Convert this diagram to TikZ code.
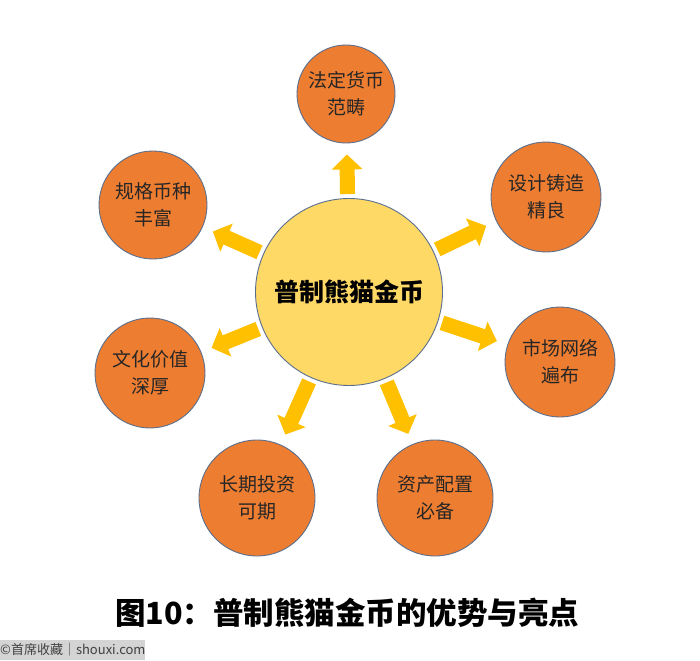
\documentclass[tikz,border=0pt]{standalone}
\usepackage{fontspec}
\setmainfont{Noto Sans CJK SC}
\usetikzlibrary{arrows.meta}
\definecolor{orangefill}{HTML}{ED7D31}
\definecolor{hubfill}{HTML}{FFD966}
\definecolor{arrowgold}{HTML}{FFC000}
\definecolor{ringline}{HTML}{5A6F8E}
\definecolor{wmgray}{HTML}{D4D4D4}

\begin{document}
\begin{tikzpicture}[x=1pt,y=-1pt,
  ball/.style={circle,draw=ringline,line width=0.9pt,fill=orangefill,align=center,minimum size=110pt,inner sep=0pt,text=black!85,font=\fontsize{19}{27}\selectfont},
  fatarrow/.style={arrowgold,line width=15pt,-{Triangle[width=30pt,length=15pt]},shorten <=4pt,shorten >=11pt}]
  \useasboundingbox (0,0) rectangle (700,660);
  \node[circle,draw=ringline,line width=0.9pt,fill=hubfill,minimum size=187pt,font=\fontsize{25}{30}\selectfont\bfseries] (hub) at (349,292) {普制熊猫金币};
  \node[ball,minimum size=98pt] (fiat) at (346,94) {法定货币\\范畴};
  \node[ball] (design) at (546,197) {设计铸造\\精良};
  \node[ball] (market) at (560,362) {市场网络\\遍布};
  \node[ball,minimum size=116pt] (asset) at (435,498) {资产配置\\必备};
  \node[ball,minimum size=116pt] (invest) at (257,498) {长期投资\\可期};
  \node[ball] (culture) at (150,373) {文化价值\\深厚};
  \node[ball,minimum size=108pt] (spec) at (153,205) {规格币种\\丰富};
  \foreach \n in {fiat,design,market,asset,invest,culture,spec}
    \draw[fatarrow] (hub) -- (\n);
  \node[font=\fontsize{30.5}{35}\selectfont\bfseries,anchor=west,inner sep=0pt] (caption) at (115,613) {图10：普制熊猫金币的优势与亮点};
  \node[fill=wmgray,anchor=south west,minimum width=145pt,minimum height=20pt,inner sep=0pt,text=black!75,font=\fontsize{13}{15}\selectfont] (mark) at (0,660) {©首席收藏｜shouxi.com};
\end{tikzpicture}
\end{document}
